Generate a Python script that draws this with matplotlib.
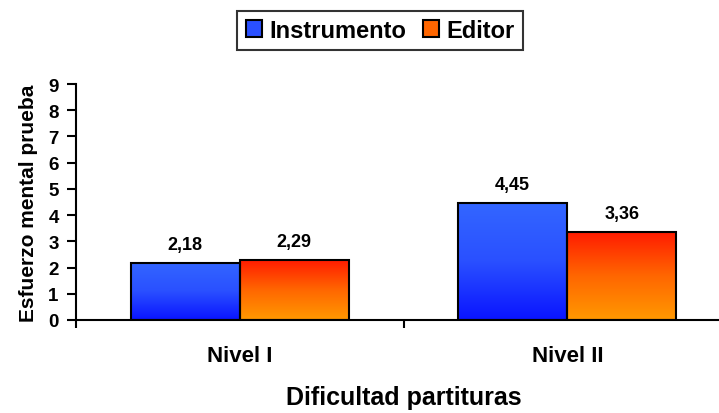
import matplotlib
matplotlib.use("Agg")
import matplotlib.pyplot as plt
import numpy as np
from matplotlib.colors import LinearSegmentedColormap
from matplotlib.patches import Patch

categories = ["Nivel I", "Nivel II"]
series = ["Instrumento", "Editor"]
instrumento = [2.18, 4.45]
editor = [2.29, 3.36]
value_labels_instr = ["2,18", "4,45"]
value_labels_edit = ["2,29", "3,36"]
yticks = list(range(0, 10))

plt.rcParams['font.family'] = ['Liberation Sans', 'DejaVu Sans']
plt.rcParams['font.weight'] = 'bold'

fig = plt.figure(figsize=(7.19, 4.14), dpi=100)
ax = fig.add_axes([76/719, 1-321/414, (731-76)/719, (321-85)/414])

cmap_blue = LinearSegmentedColormap.from_list("b", ["#0a14ff", "#2a50ff", "#3366ff"])
cmap_orange = LinearSegmentedColormap.from_list("o", ["#ff9900", "#ff6600", "#ff1a00"])

x = np.arange(len(categories))
w = 0.333

def grad_bar(xc, h, cmap, label):
    bars = ax.bar(xc, h, w, facecolor='none', edgecolor='black', linewidth=1.5, zorder=3, label=label)
    for b in bars:
        x0, y0 = b.get_x(), b.get_y()
        bw, bh = b.get_width(), b.get_height()
        grad = np.linspace(0, 1, 256).reshape(-1, 1)
        ax.imshow(grad, cmap=cmap, origin='lower', aspect='auto',
                  extent=[x0, x0 + bw, y0, y0 + bh], zorder=2, interpolation='bicubic')
    return bars

b1 = grad_bar(x - w/2, instrumento, cmap_blue, series[0])
b2 = grad_bar(x + w/2, editor, cmap_orange, series[1])

for xs, vals, labs in [(x - w/2, instrumento, value_labels_instr), (x + w/2, editor, value_labels_edit)]:
    for xi, v, t in zip(xs, vals, labs):
        ax.annotate(t, (xi, v), xytext=(0, 10), textcoords='offset points', ha='center', va='baseline',
                    fontsize=13, fontweight='bold')

ax.set_xlim(-0.5, 1.5)
ax.set_ylim(0, 9)
ax.set_yticks(yticks)
ax.set_yticklabels([str(t) for t in yticks], fontsize=13.5, fontweight='bold')
ax.set_xticks([-0.5, 0.5, 1.5])
ax.set_xticklabels([])
ax.set_xticks(x, minor=True)
ax.set_xticklabels(categories, minor=True, fontsize=16, fontweight='bold')
ax.tick_params(axis='x', which='minor', length=0, pad=18)
ax.tick_params(axis='x', which='major', length=6, width=1.5, direction='out')
ax.tick_params(axis='y', length=6.5, width=1.5, direction='out', pad=6)

for s in ['top', 'right']:
    ax.spines[s].set_visible(False)
for s in ['left', 'bottom']:
    ax.spines[s].set_linewidth(1.5)

ax.set_ylabel("Esfuerzo mental prueba", fontsize=15, fontweight='bold', labelpad=7)
ax.set_xlabel("Dificultad partituras", fontsize=18, fontweight='bold')
ax.xaxis.set_label_coords(0.5, (321-405)/236)
ax.xaxis.label.set_va('baseline')

handles = [Patch(facecolor="#2a50ff", edgecolor='black', linewidth=1.5),
           Patch(facecolor="#ff6600", edgecolor='black', linewidth=1.5)]
leg = fig.legend(handles, series, loc='center', bbox_to_anchor=(380/719, 1-31.5/414), ncol=2,
                 frameon=True, fancybox=False, edgecolor='black',
                 prop={'weight': 'bold', 'size': 17}, handlelength=0.7, handleheight=0.7,
                 handletextpad=0.3, columnspacing=0.7, borderpad=0.35, borderaxespad=0)
leg.get_frame().set_linewidth(1.5)

fig.savefig("out.png", dpi=100)
